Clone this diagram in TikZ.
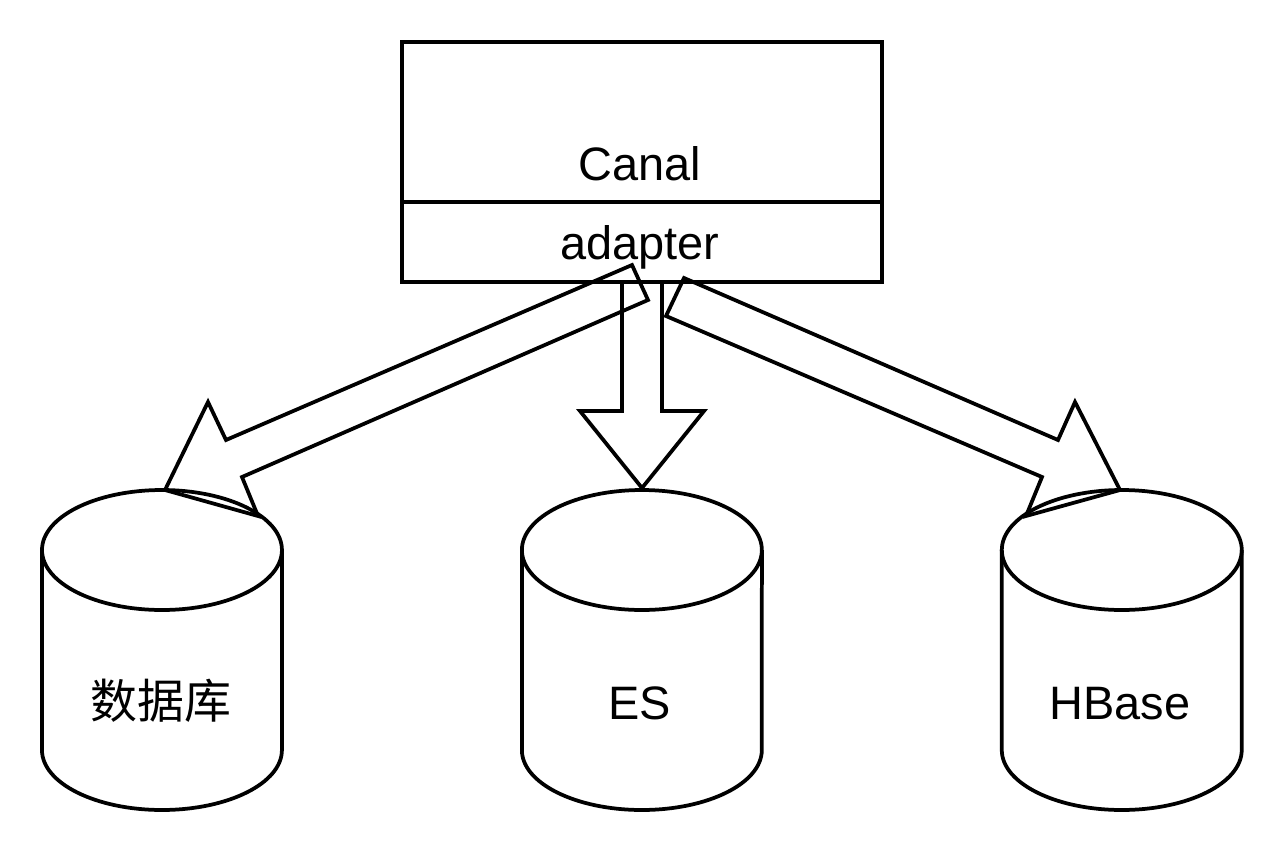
\documentclass[tikz,border=0pt]{standalone}
\usepackage{fontspec}
\setmainfont{Liberation Sans}
\newfontfamily\cjk{Noto Sans CJK SC}
\usetikzlibrary{positioning}

\tikzset{
  outline/.style={black, line width=0.075cm},
  label/.style={font=\fontsize{26.7pt}{30pt}\selectfont, inner sep=0pt},
}

\begin{document}
\begin{tikzpicture}[x=0.02cm, y=-0.02cm]

\useasboundingbox (0,0) rectangle (1284,852);

% canal box
\draw[outline] (402,42) rectangle (882,282);
\draw[outline] (402,202) -- (882,202);
\node[label, anchor=base] (canal) at (640,180) {Canal};
\node[label, anchor=base] (adapter) at (640,259) {adapter};

% block arrows
\draw[outline] (632,265)--(226,440)--(208,402)--(165,490)--(258,516)--(242,477)--(648,300)--cycle;
\draw[outline] (622,283)--(622,411)--(580,411)--(642,488)--(704,411)--(662,411)--(662,283);
\draw[outline] (684,278)--(1058,440)--(1075,402)--(1120,490)--(1026,516)--(1042,477)--(666,316)--cycle;

% databases
\begin{scope}[xshift=3.24cm]{
\draw[outline] (-120,550)--(-120,750) arc[start angle=180, end angle=360, x radius=2.4cm, y radius=1.2cm]--(120,550);
\draw[outline] (0,550) ellipse [x radius=2.4cm, y radius=1.2cm];
\node[label] (db) at (-1,701) {\cjk 数据库};
} \end{scope}

\begin{scope}[xshift=12.84cm]{
\draw[outline] (-120,550)--(-120,750) arc[start angle=180, end angle=360, x radius=2.4cm, y radius=1.2cm]--(120,550);
\draw[outline] (0,550) ellipse [x radius=2.4cm, y radius=1.2cm];
\node[label, anchor=base] (es) at (-2,719) {ES};
} \end{scope}

\begin{scope}[xshift=22.44cm]{
\draw[outline] (-120,550)--(-120,750) arc[start angle=180, end angle=360, x radius=2.4cm, y radius=1.2cm]--(120,550);
\draw[outline] (0,550) ellipse [x radius=2.4cm, y radius=1.2cm];
\node[label, anchor=base] (hbase) at (-2,719) {HBase};
} \end{scope}

\end{tikzpicture}
\end{document}
